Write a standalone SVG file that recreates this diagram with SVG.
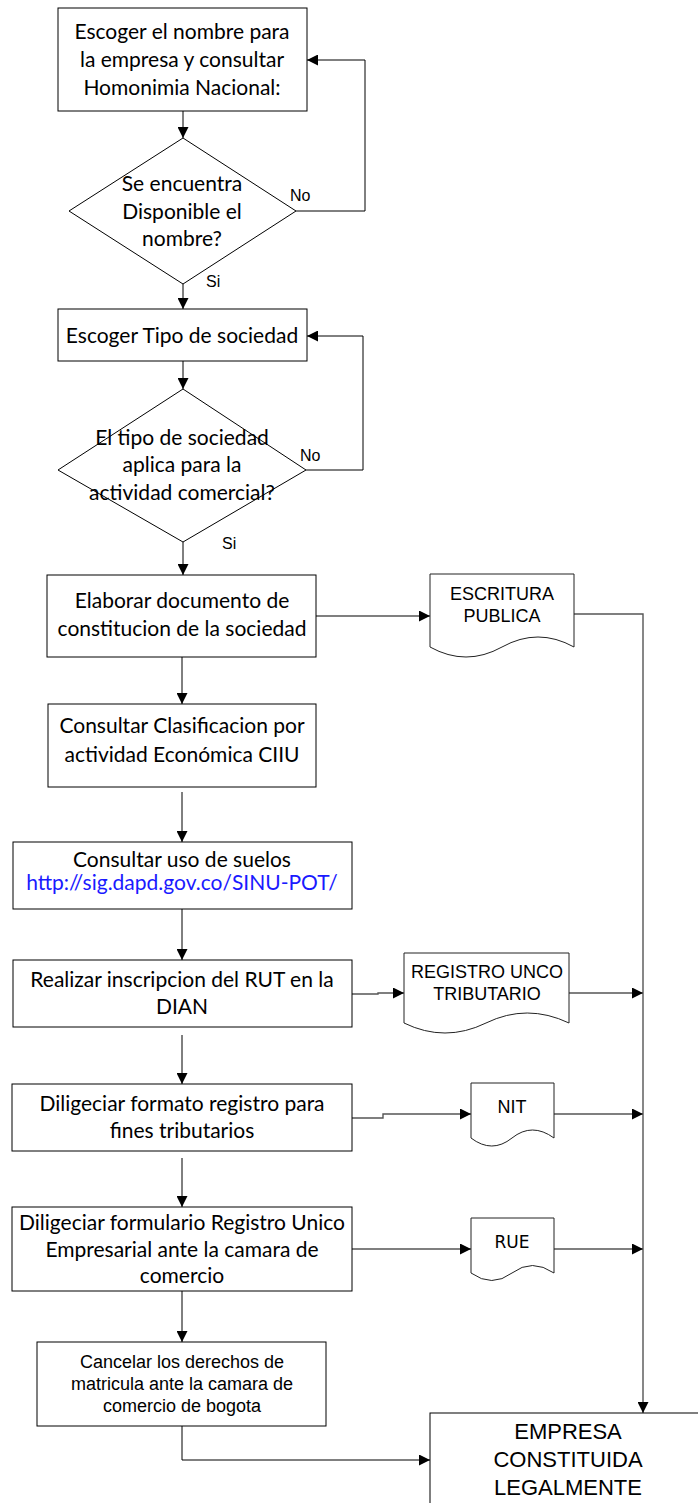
<svg xmlns="http://www.w3.org/2000/svg" width="698" height="1503" viewBox="0 0 698 1503">
  <style>
    .box { fill: #fff; stroke: #000; stroke-width: 1; }
    .doc { fill: #fff; stroke: #222; stroke-width: 1; }
    .t { font-family: Lato, "Liberation Sans", sans-serif; font-size: 21px; fill: #000; text-anchor: middle; }
    .a { font-family: "Liberation Sans", Arial, sans-serif; fill: #000; text-anchor: middle; }
    .lbl { font-family: "Liberation Sans", Arial, sans-serif; font-size: 16px; fill: #000; }
    .link { fill: #1a1aff; }
    .flow { fill: none; stroke: #000; stroke-width: 1; }
    .side { fill: none; stroke: #555; stroke-width: 1.4; }
  </style>
  <defs>
    <marker id="arrow" markerUnits="userSpaceOnUse" markerWidth="11" markerHeight="11" viewBox="0 0 11 11" refX="11" refY="5.5" orient="auto">
      <path d="M0,0 L11,5.5 L0,11 Z" fill="#000"/>
    </marker>
  </defs>

  <rect width="698" height="1503" fill="#fff"/>

  <!-- connectors -->
  <g id="connectors">
    <path class="flow" d="M183,111 V138" marker-end="url(#arrow)"/>
    <path class="flow" d="M296,211 H365 V60 H307" marker-end="url(#arrow)"/>
    <path class="flow" d="M183,284 V309" marker-end="url(#arrow)"/>
    <path class="flow" d="M183,361 V389" marker-end="url(#arrow)"/>
    <path class="flow" d="M306,470 H363 V336 H307" marker-end="url(#arrow)"/>
    <path class="flow" d="M183,542 V575" marker-end="url(#arrow)"/>
    <path class="flow" d="M182,657 V704" marker-end="url(#arrow)"/>
    <path class="flow" d="M182,792 V842" marker-end="url(#arrow)"/>
    <path class="flow" d="M182,909 V960" marker-end="url(#arrow)"/>
    <path class="flow" d="M182,1035 V1084" marker-end="url(#arrow)"/>
    <path class="flow" d="M182,1158 V1207" marker-end="url(#arrow)"/>
    <path class="flow" d="M182,1291 V1342" marker-end="url(#arrow)"/>
    <path class="flow" d="M182,1426 V1460 H430" marker-end="url(#arrow)"/>

    <!-- document outputs -->
    <path class="side" d="M316,616 H430" marker-end="url(#arrow)"/>
    <path class="side" d="M574,614 H643 V1413" marker-end="url(#arrow)"/>
    <path class="side" d="M352,994 H378 V993 H404" marker-end="url(#arrow)"/>
    <path class="side" d="M569,993 H643" marker-end="url(#arrow)"/>
    <path class="side" d="M352,1118 H383 V1114 H471" marker-end="url(#arrow)"/>
    <path class="side" d="M554,1114 H643" marker-end="url(#arrow)"/>
    <path class="side" d="M352,1249 H471" marker-end="url(#arrow)"/>
    <path class="side" d="M554,1249 H643" marker-end="url(#arrow)"/>
  </g>

  <!-- decision labels -->
  <g id="labels">
    <text class="lbl" x="290" y="201">No</text>
    <text class="lbl" x="206" y="287">Si</text>
    <text class="lbl" x="300" y="461">No</text>
    <text class="lbl" x="222" y="549">Si</text>
  </g>

  <g id="n1">
    <rect class="box" x="58" y="8" width="249" height="103"/>
    <text class="t" x="182" y="39">Escoger el nombre para</text>
    <text class="t" x="182" y="67">la empresa y consultar</text>
    <text class="t" x="182" y="95">Homonimia Nacional:</text>
  </g>

  <g id="d1">
    <polygon class="box" points="183,138 296,211 183,284 69,211"/>
    <text class="t" x="182" y="191">Se encuentra</text>
    <text class="t" x="182" y="219">Disponible el</text>
    <text class="t" x="182" y="246">nombre?</text>
  </g>

  <g id="n2">
    <rect class="box" x="58" y="309" width="249" height="52"/>
    <text class="t" x="182" y="343">Escoger Tipo de sociedad</text>
  </g>

  <g id="d2">
    <polygon class="box" points="183,389 306,470 183,542 58,470"/>
    <text class="t" x="182" y="445">El tipo de sociedad</text>
    <text class="t" x="182" y="472">aplica para la</text>
    <text class="t" x="182" y="500">actividad comercial?</text>
  </g>

  <g id="n3">
    <rect class="box" x="47" y="575" width="269" height="82"/>
    <text class="t" x="182" y="608">Elaborar documento de</text>
    <text class="t" x="182" y="636">constitucion de la sociedad</text>
  </g>

  <g id="doc1">
    <path class="doc" d="M574,574 H430 V647 Q466,667 502,647 T574,647 Z"/>
    <text class="a" x="502" y="600" font-size="18">ESCRITURA</text>
    <text class="a" x="502" y="622" font-size="18">PUBLICA</text>
  </g>

  <g id="n4">
    <rect class="box" x="48" y="704" width="268" height="83"/>
    <text class="t" x="182" y="733">Consultar Clasificacion por</text>
    <text class="t" x="182" y="762">actividad Económica CIIU</text>
  </g>

  <g id="n5">
    <rect class="box" x="13" y="842" width="339" height="67"/>
    <text class="t" x="182" y="867">Consultar uso de suelos</text>
    <text class="t link" x="182" y="890">http://sig.dapd.gov.co/SINU-POT/</text>
  </g>

  <g id="n6">
    <rect class="box" x="13" y="960" width="339" height="67"/>
    <text class="t" x="182" y="987">Realizar inscripcion del RUT en la</text>
    <text class="t" x="182" y="1014">DIAN</text>
  </g>

  <g id="doc2">
    <path class="doc" d="M569,953 H404 V1023 Q445,1043 486,1023 T569,1023 Z"/>
    <text class="a" x="487" y="978" font-size="18">REGISTRO UNCO</text>
    <text class="a" x="487" y="1000" font-size="18">TRIBUTARIO</text>
  </g>

  <g id="n7">
    <rect class="box" x="12" y="1084" width="340" height="67"/>
    <text class="t" x="182" y="1111">Diligeciar formato registro para</text>
    <text class="t" x="182" y="1138">fines tributarios</text>
  </g>

  <g id="doc3">
    <path class="doc" d="M554,1083 H471 V1138 Q492,1154 512,1138 T554,1138 Z"/>
    <text class="a" x="512" y="1113" font-size="18">NIT</text>
  </g>

  <g id="n8">
    <rect class="box" x="12" y="1207" width="340" height="84"/>
    <text class="t" x="182" y="1230">Diligeciar formulario Registro Unico</text>
    <text class="t" x="182" y="1257">Empresarial ante la camara de</text>
    <text class="t" x="182" y="1283">comercio</text>
  </g>

  <g id="doc4">
    <path class="doc" d="M554,1218 H471 V1273 Q492,1288 512,1273 T554,1273 Z"/>
    <text x="512" y="1248" font-family="'DejaVu Sans', sans-serif" font-size="17" text-anchor="middle">RUE</text>
  </g>

  <g id="n9">
    <rect class="box" x="37" y="1342" width="289" height="84"/>
    <text class="a" x="182" y="1368" font-size="18">Cancelar los derechos de</text>
    <text class="a" x="182" y="1390" font-size="18">matricula ante la camara de</text>
    <text class="a" x="182" y="1412" font-size="18">comercio de bogota</text>
  </g>

  <g id="n10">
    <rect class="box" x="430" y="1413" width="300" height="120" stroke="#444"/>
    <text class="a" x="568" y="1439" font-size="22">EMPRESA</text>
    <text class="a" x="568" y="1467" font-size="22">CONSTITUIDA</text>
    <text class="a" x="568" y="1495" font-size="22">LEGALMENTE</text>
  </g>
</svg>
